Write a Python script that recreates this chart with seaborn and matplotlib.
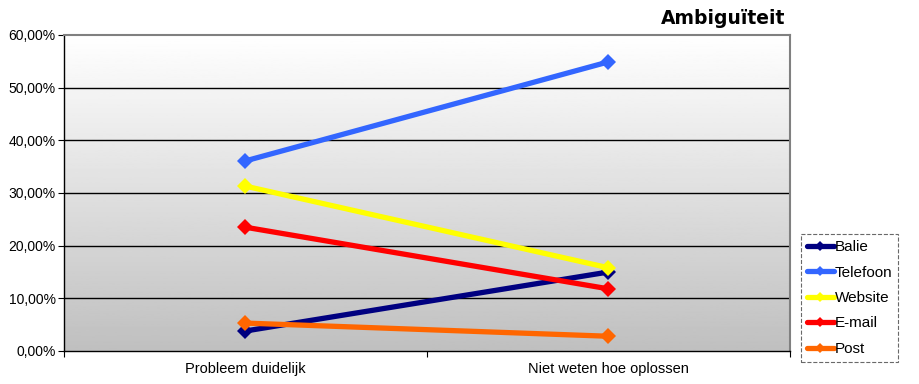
import numpy as np
import pandas as pd
import matplotlib
matplotlib.use("Agg")
import matplotlib.pyplot as plt
from matplotlib.ticker import FuncFormatter, FixedLocator
import seaborn as sns

categories = ["Probleem duidelijk", "Niet weten hoe oplossen"]
channels = ["Balie", "Telefoon", "Website", "E-mail", "Post"]
balie = [0.038, 0.150]
telefoon = [0.361, 0.549]
website = [0.313, 0.158]
email = [0.235, 0.118]
post = [0.053, 0.028]
colors = ["#000080", "#3366FF", "#FFFF00", "#FF0000", "#FF6600"]

series = [balie, telefoon, website, email, post]
df = pd.DataFrame({
    "categorie": categories * len(channels),
    "kanaal": [c for c in channels for _ in categories],
    "waarde": [v for s in series for v in s],
})

sns.set_theme(style="white")
plt.rcParams["font.family"] = ["Liberation Sans", "DejaVu Sans"]
plt.rcParams["text.color"] = "black"
plt.rcParams["xtick.color"] = "black"
plt.rcParams["ytick.color"] = "black"

fig = plt.figure(figsize=(9.19, 3.84), dpi=100)
ax = fig.add_axes([64 / 919, 1 - 351 / 384, 726 / 919, 316 / 384])

# vertical gradient background: light at top, grey at bottom
grad = np.linspace(0.75, 1.0, 256).reshape(-1, 1)
ax.imshow(grad, extent=[-0.5, 1.5, 0, 0.6], origin="lower", aspect="auto",
          cmap="gray", vmin=0, vmax=1, zorder=0)

sns.lineplot(data=df, x="categorie", y="waarde", hue="kanaal",
             hue_order=channels, palette=colors, sort=False,
             marker="D", markersize=8, markeredgewidth=0,
             linewidth=3.8, ax=ax, legend=True, zorder=3)

ax.set_xlim(-0.5, 1.5)
ax.set_ylim(0, 0.6)
ax.set_yticks(np.arange(0, 0.61, 0.1))
ax.yaxis.set_major_formatter(FuncFormatter(lambda v, p: f"{v*100:.2f}%".replace(".", ",")))
ax.set_xticks([0, 1])
ax.set_xticklabels(categories)
ax.xaxis.set_minor_locator(FixedLocator([-0.5, 0.5, 1.5]))
ax.tick_params(axis="x", which="major", length=0, pad=8, labelsize=10.5, labelcolor="black")
ax.tick_params(axis="x", which="minor", length=4, width=0.8, color="black", bottom=True)
ax.tick_params(axis="y", which="major", length=4, width=0.8, color="black", left=True,
               labelsize=10, labelcolor="black", pad=2)
ax.set_xlabel("")
ax.set_ylabel("")
ax.grid(False)
for y in np.arange(0.1, 0.51, 0.1):
    ax.axhline(y, color="black", linewidth=1.0, zorder=1)

for side in ["top", "right"]:
    ax.spines[side].set_color("#808080")
    ax.spines[side].set_linewidth(1.5)
for side in ["left", "bottom"]:
    ax.spines[side].set_color("black")
    ax.spines[side].set_linewidth(1.0)
    ax.spines[side].set_visible(True)

fig.text(785 / 919, 1 - 18 / 384, "Ambiguïteit", ha="right", va="center",
         fontsize=13.5, fontweight="bold", color="black", family=["DejaVu Sans"])

handles, labels = ax.get_legend_handles_labels()
ax.get_legend().remove()
leg = fig.legend(handles, labels, loc="upper left",
                 bbox_to_anchor=(801 / 919, 1 - 234 / 384),
                 frameon=True, fancybox=False, fontsize=11,
                 handlelength=1.75, handletextpad=0.05, labelspacing=0.75,
                 borderaxespad=0, borderpad=0.4, labelcolor="black")
frame = leg.get_frame()
frame.set_linestyle("--")
frame.set_edgecolor("#444444")
frame.set_linewidth(0.8)
for h in leg.legend_handles:
    h.set_linewidth(3.8)
    h.set_markersize(5)

fig.savefig("out.png", dpi=100, facecolor="white")
